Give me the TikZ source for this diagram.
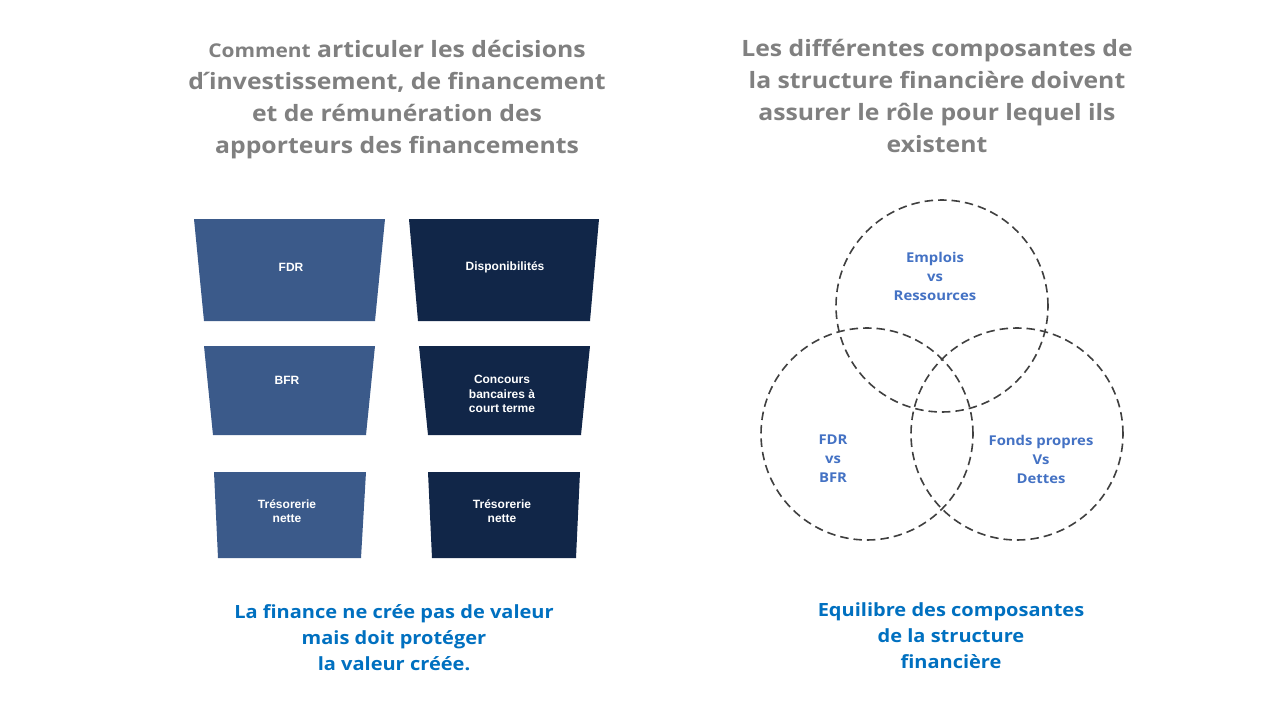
\documentclass[tikz,border=0pt]{standalone}
\usepackage{fontspec}
\setmainfont{Open Sans}[FakeStretch=1.1]
\newfontfamily\boxfont{Liberation Sans}
\definecolor{titlegray}{RGB}{128,128,128}
\definecolor{msgblue}{RGB}{0,112,192}
\definecolor{vennblue}{RGB}{68,114,196}
\definecolor{lightbox}{RGB}{59,90,138}
\definecolor{darkbox}{RGB}{17,38,72}
\definecolor{dashgray}{RGB}{64,64,64}
\newcommand{\acutemark}{\hbox to 5pt{\hss´\hss}}
\tikzset{
  title/.style={text=titlegray, align=center, font=\bfseries\fontsize{22.5}{32}\selectfont},
  message/.style={text=msgblue, align=center, font=\bfseries\fontsize{18.2}{26}\selectfont},
  boxtext/.style={text=white, align=center, font=\boxfont\bfseries\fontsize{12}{14.5}\selectfont},
  venntext/.style={text=vennblue, align=center, font=\bfseries\fontsize{13.5}{19}\selectfont},
  venn/.style={circle, draw=dashgray, line width=1.6pt, dash pattern=on 8.5pt off 5pt, minimum size=212pt, inner sep=0pt}
}
\begin{document}
\begin{tikzpicture}[x=1pt, y=-1pt]
  \useasboundingbox[fill=white] (0,0) rectangle (1280,720);

  % Titles
  \node[title] (titleL) at (397,100) {{\fontsize{19}{32}\selectfont Comment} articuler les décisions\\ d\acutemark investissement, de financement\\ et de rémunération des\\ apporteurs des financements};
  \node[title] (titleR) at (937,96) {Les différentes composantes de\\ la structure financière doivent\\ assurer le rôle pour lequel ils\\ existent};

  % Left column of trapezia
  \fill[lightbox] (194,219) -- (385,219) -- (375,321) -- (204,321) -- cycle;
  \fill[lightbox] (204,346) -- (375,346) -- (366,435) -- (213,435) -- cycle;
  \fill[lightbox] (214,472) -- (366,472) -- (361,558) -- (218,558) -- cycle;

  % Right column of trapezia
  \fill[darkbox] (409,219) -- (599,219) -- (590,321) -- (418,321) -- cycle;
  \fill[darkbox] (419,346) -- (590,346) -- (581,435) -- (428,435) -- cycle;
  \fill[darkbox] (428,472) -- (580,472) -- (576,558) -- (432,558) -- cycle;

  % Box labels
  \node[boxtext] (fdrL) at (291,267) {FDR};
  \node[boxtext] (bfrL) at (287,380) {BFR};
  \node[boxtext] (tresL) at (287,511) {Trésorerie\\ nette};
  \node[boxtext] (dispo) at (505,267) {Disponibilités};
  \node[boxtext] (concours) at (502,394) {Concours\\ bancaires à\\ court terme};
  \node[boxtext] (tresR) at (502,511) {Trésorerie\\ nette};

  % Venn circles
  \node[venn] (cEmp) at (942,306) {};
  \node[venn] (cFdr) at (867,434) {};
  \node[venn] (cFp) at (1017,434) {};

  % Venn labels
  \node[venntext] (tEmp) at (935,276) {Emplois\\ vs\\ Ressources};
  \node[venntext] (tFdr) at (833,459) {FDR\\ vs\\ BFR};
  \node[venntext] (tFp) at (1041,459) {Fonds propres\\ Vs\\ Dettes};

  % Messages
  \node[message] (msgL) at (394,638) {La finance ne crée pas de valeur\\ mais doit protéger\\ la valeur créée.};
  \node[message] (msgR) at (951,636) {Equilibre des composantes\\ de la structure\\ financière};
\end{tikzpicture}
\end{document}
